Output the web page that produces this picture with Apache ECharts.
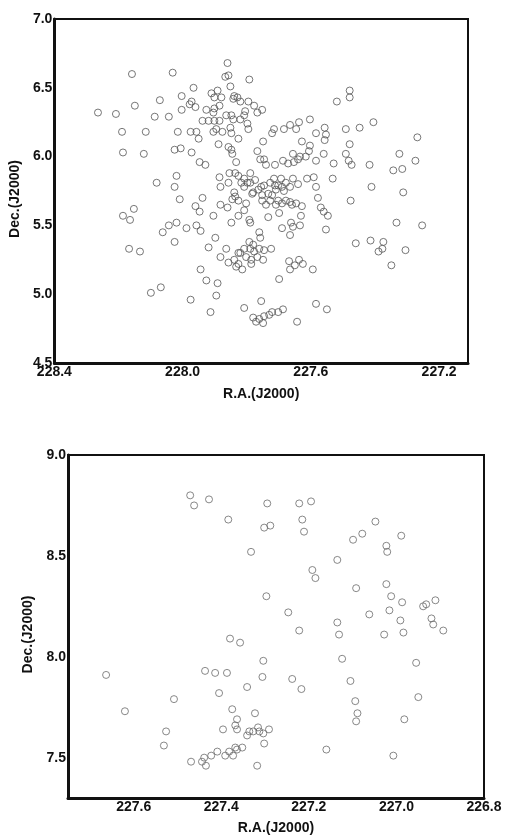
<!DOCTYPE html>
<html>
<head>
<meta charset="utf-8">
<style>
html, body { margin: 0; padding: 0; background: #fff; }
#chart { width: 505px; height: 837px; }
</style>
</head>
<body>
<div id="chart"></div>
<script src="https://cdn.jsdelivr.net/npm/echarts@6/dist/echarts.min.js"></script>
<script>
// upper field: [R.A., Dec.]
const topPoints = [
  [228.264, 6.32], [228.208, 6.31], [228.158, 6.60], [228.149, 6.37], [228.189, 6.18],
  [228.115, 6.18], [228.186, 6.03], [228.121, 6.02], [228.087, 6.29], [228.071, 6.41],
  [228.043, 6.29], [228.081, 5.81], [228.186, 5.57], [228.164, 5.54], [228.152, 5.62],
  [228.167, 5.33], [228.133, 5.31], [228.062, 5.45], [228.043, 5.50], [228.099, 5.01],
  [228.068, 5.05], [228.031, 6.61], [228.003, 6.44], [228.003, 6.34], [228.015, 6.18],
  [228.025, 6.05], [228.006, 6.06], [227.972, 6.03], [227.966, 6.50], [227.978, 6.38],
  [227.972, 6.40], [227.960, 6.36], [227.975, 6.18], [227.957, 6.18], [227.950, 6.13],
  [227.947, 5.96], [227.929, 5.94], [228.019, 5.86], [228.025, 5.78], [228.009, 5.69],
  [228.019, 5.52], [228.025, 5.38], [227.988, 5.48], [227.957, 5.50], [227.944, 5.46],
  [227.938, 5.70], [227.960, 5.64], [227.947, 5.60], [227.975, 4.96], [227.944, 5.18],
  [227.926, 5.10], [227.919, 5.34], [227.913, 4.87], [227.938, 6.26], [227.926, 6.34],
  [227.910, 6.46], [227.891, 6.48], [227.901, 6.43], [227.879, 6.43], [227.860, 6.68],
  [227.867, 6.58], [227.857, 6.59], [227.851, 6.51], [227.839, 6.44], [227.842, 6.42],
  [227.829, 6.43], [227.885, 6.37], [227.901, 6.35], [227.904, 6.32], [227.919, 6.26],
  [227.901, 6.26], [227.885, 6.26], [227.864, 6.30], [227.848, 6.30], [227.842, 6.27],
  [227.904, 6.18], [227.895, 6.20], [227.876, 6.18], [227.851, 6.21], [227.848, 6.17],
  [227.888, 6.09], [227.857, 6.07], [227.848, 6.05], [227.845, 6.02], [227.833, 5.96],
  [227.885, 5.85], [227.854, 5.88], [227.836, 5.88], [227.826, 5.86], [227.882, 5.78],
  [227.857, 5.81], [227.904, 5.57], [227.898, 5.41], [227.882, 5.65], [227.860, 5.63],
  [227.848, 5.52], [227.839, 5.74], [227.845, 5.69], [227.826, 5.68], [227.826, 5.57],
  [227.864, 5.33], [227.882, 5.27], [227.857, 5.23], [227.839, 5.25], [227.826, 5.30],
  [227.833, 5.20], [227.891, 5.08], [227.895, 4.99], [227.820, 6.40], [227.792, 6.56],
  [227.795, 6.40], [227.777, 6.37], [227.752, 6.34], [227.767, 6.32], [227.805, 6.33],
  [227.808, 6.30], [227.820, 6.27], [227.798, 6.24], [227.795, 6.20], [227.826, 6.13],
  [227.715, 6.20], [227.721, 6.17], [227.684, 6.20], [227.665, 6.23], [227.646, 6.20],
  [227.637, 6.25], [227.749, 6.11], [227.767, 6.04], [227.746, 5.98], [227.758, 5.98],
  [227.740, 5.94], [227.656, 6.02], [227.634, 6.00], [227.712, 5.94], [227.687, 5.97],
  [227.671, 5.95], [227.653, 5.96], [227.640, 5.98], [227.808, 5.84], [227.789, 5.88],
  [227.774, 5.83], [227.746, 5.79], [227.715, 5.84], [227.693, 5.84], [227.678, 5.81],
  [227.656, 5.84], [227.640, 5.80], [227.712, 5.79], [227.690, 5.78], [227.665, 5.78],
  [227.836, 5.71], [227.808, 5.78], [227.798, 5.81], [227.817, 5.81], [227.789, 5.81],
  [227.783, 5.73], [227.764, 5.76], [227.755, 5.78], [227.727, 5.81], [227.702, 5.79],
  [227.752, 5.72], [227.733, 5.73], [227.721, 5.72], [227.709, 5.76], [227.684, 5.75],
  [227.752, 5.68], [227.740, 5.65], [227.727, 5.68], [227.709, 5.65], [227.702, 5.68],
  [227.690, 5.66], [227.678, 5.68], [227.665, 5.67], [227.659, 5.65], [227.646, 5.66],
  [227.628, 5.64], [227.802, 5.66], [227.808, 5.61], [227.792, 5.54], [227.789, 5.52],
  [227.733, 5.56], [227.699, 5.59], [227.690, 5.48], [227.662, 5.52], [227.656, 5.49],
  [227.665, 5.43], [227.780, 5.74], [227.761, 5.45], [227.758, 5.41], [227.792, 5.38],
  [227.780, 5.36], [227.789, 5.33], [227.808, 5.33], [227.820, 5.30], [227.777, 5.31],
  [227.761, 5.33], [227.746, 5.32], [227.724, 5.33], [227.802, 5.27], [227.786, 5.25],
  [227.767, 5.27], [227.749, 5.25], [227.786, 5.22], [227.826, 5.22], [227.814, 5.18],
  [227.668, 5.24], [227.650, 5.21], [227.637, 5.25], [227.625, 5.22], [227.665, 5.18],
  [227.594, 5.18], [227.699, 5.11], [227.808, 4.90], [227.755, 4.95], [227.780, 4.83],
  [227.771, 4.80], [227.761, 4.82], [227.749, 4.79], [227.746, 4.84], [227.730, 4.85],
  [227.721, 4.87], [227.702, 4.87], [227.687, 4.89], [227.643, 4.80], [227.584, 4.93],
  [227.550, 4.89], [227.631, 5.57], [227.634, 5.50], [227.519, 6.40], [227.479, 6.48],
  [227.479, 6.43], [227.628, 6.11], [227.584, 6.17], [227.557, 6.21], [227.553, 6.16],
  [227.557, 6.12], [227.603, 6.27], [227.603, 6.08], [227.606, 6.04], [227.616, 6.00],
  [227.560, 6.02], [227.584, 5.97], [227.529, 5.95], [227.532, 5.84], [227.591, 5.85],
  [227.612, 5.84], [227.584, 5.78], [227.405, 6.25], [227.448, 6.21], [227.491, 6.20],
  [227.268, 6.14], [227.479, 6.09], [227.324, 6.02], [227.491, 6.02], [227.482, 5.97],
  [227.473, 5.94], [227.417, 5.94], [227.343, 5.90], [227.315, 5.91], [227.274, 5.97],
  [227.411, 5.78], [227.312, 5.74], [227.578, 5.70], [227.476, 5.68], [227.569, 5.63],
  [227.560, 5.60], [227.547, 5.57], [227.553, 5.47], [227.333, 5.52], [227.253, 5.50],
  [227.460, 5.37], [227.414, 5.39], [227.374, 5.38], [227.377, 5.33], [227.389, 5.31],
  [227.305, 5.32], [227.349, 5.21]
];

// lower field: [R.A., Dec.]
const bottomPoints = [
  [227.471, 8.80], [227.462, 8.75], [227.428, 8.78], [227.384, 8.68], [227.332, 8.52],
  [227.380, 8.09], [227.357, 8.07], [227.295, 8.76], [227.222, 8.76], [227.195, 8.77],
  [227.215, 8.68], [227.211, 8.62], [227.302, 8.64], [227.288, 8.65], [227.048, 8.67],
  [227.099, 8.58], [227.078, 8.61], [226.989, 8.60], [227.023, 8.55], [227.021, 8.52],
  [227.135, 8.48], [227.192, 8.43], [227.185, 8.39], [227.297, 8.30], [227.092, 8.34],
  [227.023, 8.36], [227.012, 8.30], [226.987, 8.27], [227.247, 8.22], [227.062, 8.21],
  [227.016, 8.23], [226.991, 8.18], [226.939, 8.25], [226.932, 8.26], [226.911, 8.28],
  [226.920, 8.19], [226.916, 8.16], [226.893, 8.13], [227.222, 8.13], [227.135, 8.17],
  [227.131, 8.11], [227.028, 8.11], [226.984, 8.12], [227.304, 7.98], [227.306, 7.90],
  [227.341, 7.85], [227.238, 7.89], [227.217, 7.84], [227.124, 7.99], [227.105, 7.88],
  [227.094, 7.78], [227.089, 7.72], [227.092, 7.68], [226.955, 7.97], [226.950, 7.80],
  [226.982, 7.69], [227.323, 7.72], [227.336, 7.63], [227.327, 7.63], [227.316, 7.65],
  [227.313, 7.63], [227.304, 7.62], [227.291, 7.64], [227.341, 7.61], [227.302, 7.57],
  [227.352, 7.55], [227.318, 7.46], [227.160, 7.54], [227.007, 7.51], [227.663, 7.91],
  [227.620, 7.73], [227.508, 7.79], [227.526, 7.63], [227.531, 7.56], [227.469, 7.48],
  [227.444, 7.48], [227.435, 7.46], [227.439, 7.50], [227.423, 7.51], [227.409, 7.53],
  [227.391, 7.51], [227.382, 7.53], [227.373, 7.51], [227.368, 7.55], [227.364, 7.54],
  [227.437, 7.93], [227.414, 7.92], [227.387, 7.92], [227.405, 7.82], [227.375, 7.74],
  [227.364, 7.69], [227.368, 7.66], [227.364, 7.64], [227.396, 7.64]
];

const topXTicks = [228.4, 228.0, 227.6, 227.2];
const topYTicks = [4.5, 5.0, 5.5, 6.0, 6.5, 7.0];
const bottomXTicks = [227.6, 227.4, 227.2, 227.0, 226.8];
const bottomYTicks = [7.5, 8.0, 8.5, 9.0];

const chart = echarts.init(document.getElementById('chart'));

const font = '"Liberation Sans", Arial, sans-serif';
const labelStyle = {
  color: '#111',
  fontFamily: font,
  fontWeight: 'bold',
  fontSize: 14,
  formatter: v => Number(v).toFixed(1)
};
const nameStyle = { color: '#111', fontFamily: font, fontWeight: 'bold', fontSize: 14 };

function xAxisFor(gridIndex, min, max, ticks, gap) {
  return {
    type: 'value', gridIndex, min, max, inverse: true,
    name: 'R.A.(J2000)', nameLocation: 'middle', nameGap: gap,
    nameTextStyle: nameStyle,
    axisLine: { onZero: false, lineStyle: { color: '#111', width: 3 } },
    axisTick: { show: false },
    splitLine: { show: false },
    axisLabel: Object.assign({ margin: 2, customValues: ticks }, labelStyle)
  };
}

function yAxisFor(gridIndex, min, max, ticks, gap) {
  return {
    type: 'value', gridIndex, min, max,
    name: 'Dec.(J2000)', nameLocation: 'middle', nameRotate: 90, nameGap: gap,
    nameTextStyle: Object.assign({ padding: [0, 16, 0, 0] }, nameStyle),
    axisLine: { onZero: false, lineStyle: { color: '#111', width: 3 } },
    axisTick: { show: false },
    splitLine: { show: false },
    axisLabel: Object.assign({ margin: 2, customValues: ticks }, labelStyle)
  };
}

const option = {
  animation: false,
  backgroundColor: '#fff',
  grid: [
    { left: 52, top: 19, width: 416, height: 344, show: true, borderColor: '#111', borderWidth: 2 },
    { left: 68, top: 455, width: 416, height: 343, show: true, borderColor: '#111', borderWidth: 2 }
  ],
  xAxis: [
    xAxisFor(0, 227.11, 228.4, topXTicks, 24),
    xAxisFor(1, 226.8, 227.75, bottomXTicks, 23)
  ],
  yAxis: [
    yAxisFor(0, 4.5, 7.0, topYTicks, 27),
    yAxisFor(1, 7.3, 9.0, bottomYTicks, 28)
  ],
  series: [
    {
      type: 'scatter', xAxisIndex: 0, yAxisIndex: 0,
      symbol: 'circle', symbolSize: 7,
      itemStyle: { color: 'transparent', borderColor: '#555', borderWidth: 1 },
      data: topPoints
    },
    {
      type: 'scatter', xAxisIndex: 1, yAxisIndex: 1,
      symbol: 'circle', symbolSize: 7,
      itemStyle: { color: 'transparent', borderColor: '#6a6a6a', borderWidth: 1 },
      data: bottomPoints
    }
  ]
};

chart.setOption(option);
</script>
</body>
</html>
